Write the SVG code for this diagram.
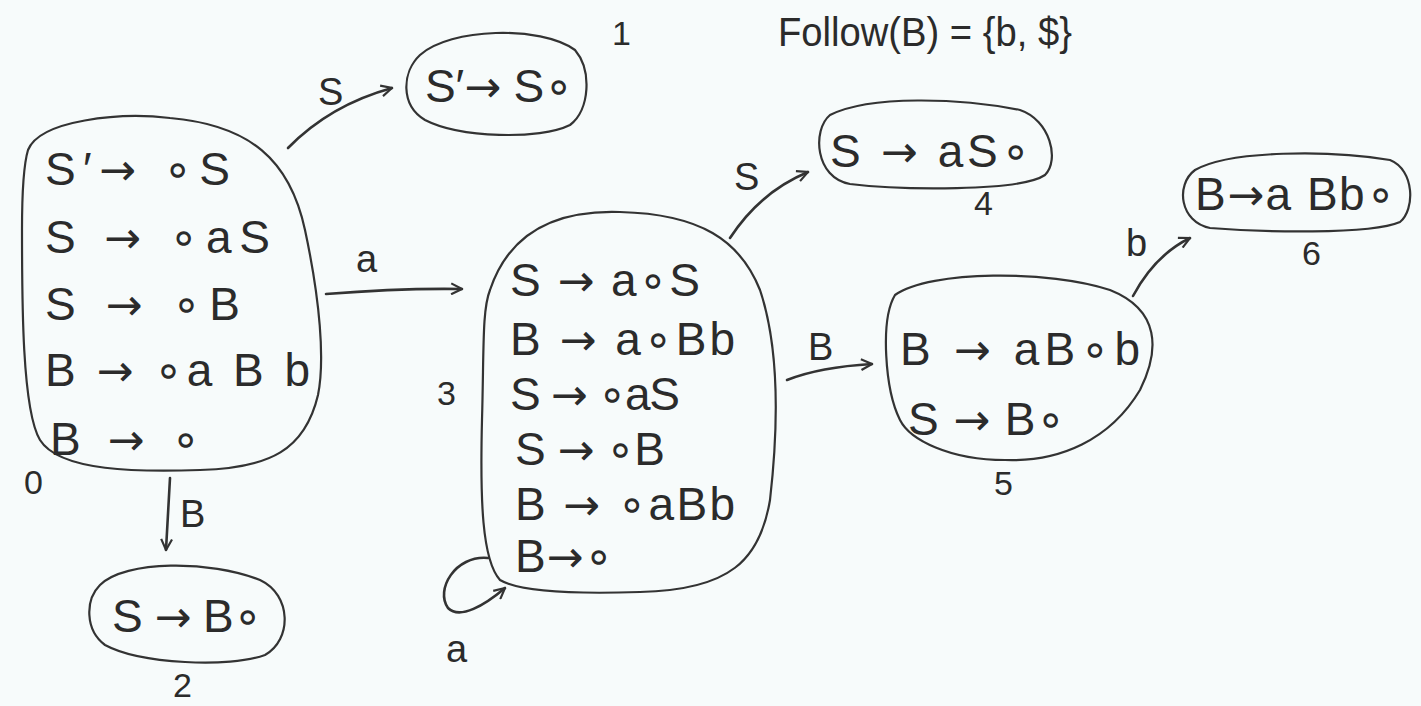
<svg xmlns="http://www.w3.org/2000/svg" width="1421" height="706" viewBox="0 0 1421 706">
<style>
.bg{fill:#f7fbfb}
.outline{fill:none;stroke:#333;stroke-width:2.2;stroke-linecap:round;stroke-linejoin:round}
.edge{fill:none;stroke:#333;stroke-width:2.6;stroke-linecap:round}
.t{font-family:"Liberation Sans","DejaVu Sans",sans-serif;font-size:46px;fill:#2b2b2b}
.h{font-family:"Liberation Sans","DejaVu Sans",sans-serif;font-size:40px;fill:#2b2b2b}
.ar{font-family:"DejaVu Sans",sans-serif;font-size:44px}
.lbl{font-family:"Liberation Sans","DejaVu Sans",sans-serif;font-size:38px;fill:#2b2b2b}
.num{font-family:"Liberation Sans","DejaVu Sans",sans-serif;font-size:34px;fill:#2b2b2b}
</style>
<defs>
<marker id="arr" viewBox="0 0 12 12" refX="11" refY="6" markerWidth="13" markerHeight="13" markerUnits="userSpaceOnUse" orient="auto">
<path d="M1,1 L11,6 L1,11" fill="none" stroke="#333" stroke-width="2"/>
</marker>
</defs>
<rect class="bg" x="0" y="0" width="1421" height="706"/>

<g id="header">
<text class="h" x="778" y="46" textLength="294" lengthAdjust="spacingAndGlyphs">Follow(B) = {b, $}</text>
</g>

<g id="node0">
<path class="outline" d="M 28,150 C 40,120 120,112 170,118 C 250,125 290,160 305,230 C 320,300 325,360 318,395 C 305,450 270,468 200,470 C 140,472 60,472 40,440 C 22,410 22,300 22,230 C 22,180 25,160 28,150 Z"/>
<text class="t" x="45" y="185" textLength="185" lengthAdjust="spacing">S′<tspan class="ar">→</tspan> ∘S</text>
<text class="t" x="45" y="253" textLength="225" lengthAdjust="spacing">S <tspan class="ar">→</tspan> ∘aS</text>
<text class="t" x="45" y="320" textLength="195" lengthAdjust="spacing">S <tspan class="ar">→</tspan> ∘B</text>
<text class="t" x="45" y="386" textLength="265" lengthAdjust="spacing">B <tspan class="ar">→</tspan> ∘a B b</text>
<text class="t" x="50" y="455" textLength="150" lengthAdjust="spacing">B <tspan class="ar">→</tspan> ∘</text>
<text class="num" x="24" y="494">0</text>
</g>

<g id="node1">
<path class="outline" d="M 420,55 C 450,28 540,25 575,50 C 592,70 590,110 570,125 C 540,140 460,138 425,120 C 400,105 402,72 420,55 Z"/>
<text class="t" x="425" y="102" textLength="148" lengthAdjust="spacing">S′<tspan class="ar">→</tspan> S∘</text>
<text class="num" x="612" y="45">1</text>
</g>

<g id="node2">
<path class="outline" d="M 100,585 C 125,560 210,560 260,580 C 292,595 292,640 265,655 C 230,668 140,664 105,645 C 85,630 85,600 100,585 Z"/>
<text class="t" x="112" y="632" textLength="150" lengthAdjust="spacing">S <tspan class="ar">→</tspan> B∘</text>
<text class="num" x="173" y="697">2</text>
</g>

<g id="node3">
<path class="outline" d="M 490,290 C 510,230 560,210 620,212 C 700,214 740,240 760,290 C 780,350 778,430 770,500 C 760,560 730,590 640,592 C 580,594 520,592 500,580 C 482,560 480,500 482,420 C 484,350 482,310 490,290 Z"/>
<text class="t" x="510" y="296" textLength="190" lengthAdjust="spacing">S <tspan class="ar">→</tspan> a∘S</text>
<text class="t" x="510" y="355" textLength="225" lengthAdjust="spacing">B <tspan class="ar">→</tspan> a∘Bb</text>
<text class="t" x="510" y="410" textLength="170" lengthAdjust="spacing">S <tspan class="ar">→</tspan> ∘aS</text>
<text class="t" x="515" y="465" textLength="150" lengthAdjust="spacing">S <tspan class="ar">→</tspan> ∘B</text>
<text class="t" x="515" y="520" textLength="220" lengthAdjust="spacing">B <tspan class="ar">→</tspan> ∘aBb</text>
<text class="t" x="515" y="572" textLength="98" lengthAdjust="spacing">B<tspan class="ar">→</tspan>∘</text>
<text class="num" x="437" y="405">3</text>
</g>

<g id="node4">
<path class="outline" d="M 830,115 C 870,95 960,98 1020,110 C 1050,120 1060,160 1045,175 C 1020,192 900,190 850,184 C 815,178 812,130 830,115 Z"/>
<text class="t" x="830" y="167" textLength="200" lengthAdjust="spacing">S <tspan class="ar">→</tspan> aS∘</text>
<text class="num" x="974" y="215">4</text>
</g>

<g id="node5">
<path class="outline" d="M 895,295 C 930,270 1050,270 1110,290 C 1160,310 1160,350 1140,390 C 1110,440 1060,462 1005,460 C 950,460 910,440 900,420 C 885,390 880,320 895,295 Z"/>
<text class="t" x="900" y="365" textLength="240" lengthAdjust="spacing">B <tspan class="ar">→</tspan> aB∘b</text>
<text class="t" x="908" y="435" textLength="157" lengthAdjust="spacing">S <tspan class="ar">→</tspan> B∘</text>
<text class="num" x="994" y="495">5</text>
</g>

<g id="node6">
<path class="outline" d="M 1195,170 C 1230,150 1330,150 1390,160 C 1415,170 1415,210 1400,222 C 1370,235 1260,232 1210,228 C 1180,222 1175,185 1195,170 Z"/>
<text class="t" x="1195" y="210" textLength="200" lengthAdjust="spacing">B<tspan class="ar">→</tspan>a Bb∘</text>
<text class="num" x="1302" y="265">6</text>
</g>

<g id="connectors">
<path class="edge" marker-end="url(#arr)" d="M 288,148 Q 330,105 392,88"/>
<text class="lbl" x="318" y="105">S</text>
<path class="edge" marker-end="url(#arr)" d="M 326,294 Q 400,288 462,289"/>
<text class="lbl" x="356" y="272">a</text>
<path class="edge" marker-end="url(#arr)" d="M 170,478 L 166,550"/>
<text class="lbl" x="180" y="527">B</text>
<path class="edge" marker-end="url(#arr)" d="M 730,238 Q 760,192 808,172"/>
<text class="lbl" x="734" y="190">S</text>
<path class="edge" marker-end="url(#arr)" d="M 787,380 Q 820,367 872,364"/>
<text class="lbl" x="808" y="360">B</text>
<path class="edge" marker-end="url(#arr)" d="M 1133,296 Q 1155,255 1190,238"/>
<text class="lbl" x="1126" y="256">b</text>
<path class="edge" marker-end="url(#arr)" d="M 488,558 C 455,555 435,590 448,608 C 460,620 485,605 505,588"/>
<text class="lbl" x="446" y="662">a</text>
</g>
</svg>
